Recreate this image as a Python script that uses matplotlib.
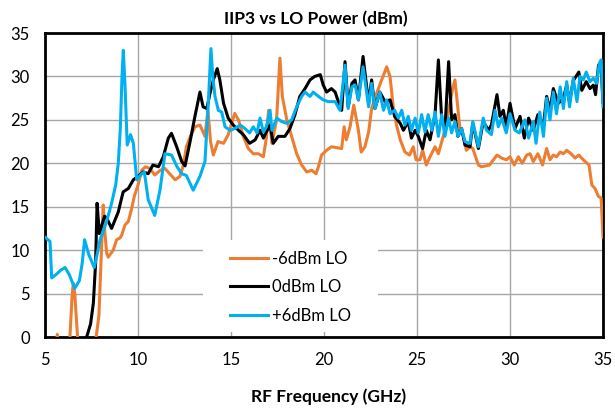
import matplotlib
matplotlib.use("Agg")
import matplotlib.pyplot as plt
from matplotlib.patches import Rectangle

plt.rcParams['font.family'] = ['Lato', 'DejaVu Sans']

# -6dBm LO
orange_x = [5.5, 5.66, 5.8, 6.2, 6.34, 6.45, 6.52, 6.6, 6.75, 6.9, 7.55, 7.75, 7.9, 8.0, 8.13, 8.22,
            8.32, 8.4, 8.67, 8.85, 9.03, 9.12, 9.3, 9.48, 9.66, 9.8, 10.0, 10.2, 10.4, 10.64, 10.9,
            11.2, 11.45, 11.7, 12.0, 12.26, 12.44, 12.6, 12.8, 13.06, 13.33, 13.6, 13.76, 13.9, 14.05,
            14.3, 14.6, 14.85, 15.2, 15.4, 15.66, 15.93, 16.2, 16.47, 16.74, 16.9, 17.02, 17.2, 17.45,
            17.63, 17.76, 18.0, 18.26, 18.53, 18.8, 19.07, 19.34, 19.57, 19.7, 19.87, 20.14, 20.4,
            20.95, 21.08, 21.2, 21.4, 21.6, 21.85, 22.0, 22.2, 22.4, 22.56, 22.83, 23.1, 23.37, 23.55,
            23.72, 23.9, 24.1, 24.35, 24.6, 24.8, 24.95, 25.16, 25.3, 25.5, 25.7, 25.97, 26.15, 26.33,
            26.5, 26.7, 26.9, 27.04, 27.16, 27.3, 27.5, 27.65, 27.85, 28.0, 28.3, 28.47, 28.9, 29.3,
            29.55, 29.8, 30.0, 30.23, 30.45, 30.66, 30.9, 31.08, 31.25, 31.5, 31.75, 31.97, 32.15,
            32.33, 32.5, 32.7, 32.87, 33.05, 33.28, 33.5, 33.7, 33.94, 34.25, 34.4, 34.57, 34.75,
            34.9, 35.0]
orange_y = [-3, 0.3, -3, -3, 0, 4.5, 6.2, 5.0, 0, -3, -3, 0, 2.5, 8.0, 15.2, 12.0,
            9.6, 9.2, 10.0, 11.2, 11.4, 11.7, 12.9, 13.3, 14.8, 16.2, 17.5, 19.2, 19.6, 19.4, 18.65,
            19.2, 19.4, 18.8, 18.1, 18.5, 19.8, 21.9, 23.0, 24.2, 24.4, 23.1, 26.1, 22.5, 20.95,
            22.5, 22.3, 23.3, 25.75, 25.0, 23.1, 21.7, 21.1, 21.1, 20.75, 22.9, 26.1, 22.3, 25.0,
            32.1, 27.7, 25.0, 23.1, 21.1, 19.8, 19.0, 19.2, 18.8, 19.6, 20.95, 21.5, 21.9,
            21.7, 24.2, 22.7, 24.2, 26.7, 23.8, 21.3, 21.9, 23.6, 26.3, 28.05, 29.6, 31.1, 30.0,
            26.5, 24.4, 22.7, 21.3, 20.95, 21.9, 20.4, 20.4, 21.5, 19.8, 20.75, 21.9, 21.1, 22.5,
            23.8, 26.1, 28.4, 29.6, 27.1, 24.2, 23.1, 21.5, 21.9, 21.7, 19.8, 19.6, 19.8, 20.95,
            20.6, 20.4, 20.75, 19.8, 20.75, 20.0, 20.95, 21.1, 20.2, 21.1, 19.8, 21.7, 20.4,
            20.95, 20.75, 21.3, 21.1, 21.5, 21.1, 20.6, 20.95, 20.4, 19.8, 17.5, 17.1, 16.2,
            16.0, 11.5]

# 0dBm LO
black_x = [7.0, 7.24, 7.45, 7.6, 7.72, 7.8, 7.92, 8.2, 8.32, 8.58, 8.94, 9.2, 9.48, 9.75, 10.0,
           10.28, 10.55, 10.8, 11.1, 11.36, 11.63, 11.8, 12.08, 12.35, 12.53, 12.8, 13.06, 13.33,
           13.5, 13.7, 13.87, 14.05, 14.26, 14.4, 14.6, 14.85, 15.12, 15.4, 15.66, 16.0, 16.3,
           16.56, 16.74, 16.9, 17.1, 17.27, 17.54, 17.9, 18.17, 18.44, 18.7, 18.98, 19.25, 19.5,
           19.8, 19.96, 20.14, 20.4, 20.6, 20.77, 20.95, 21.13, 21.3, 21.5, 21.67, 21.85, 22.1,
           22.4, 22.56, 22.74, 23.0, 23.28, 23.55, 23.8, 24.1, 24.27, 24.53, 24.7, 24.9, 25.07,
           25.3, 25.5, 25.7, 25.97, 26.15, 26.33, 26.5, 26.7, 26.86, 27.04, 27.2, 27.4, 27.58,
           27.85, 28.0, 28.3, 28.56, 28.84, 29.0, 29.3, 29.46, 29.64, 29.8, 30.0, 30.27, 30.54,
           30.77, 31.0, 31.25, 31.5, 31.8, 31.97, 32.15, 32.33, 32.6, 32.87, 33.05, 33.2, 33.4,
           33.7, 33.86, 34.1, 34.3, 34.48, 34.6, 34.76, 34.9, 35.0]
black_y = [-3, 0, 1.5, 3.9, 8.5, 15.4, 11.9, 13.9, 13.7, 12.5, 14.4, 16.7, 17.1, 18.1, 18.5,
           19.0, 18.8, 19.8, 19.6, 20.75, 22.9, 23.45, 21.9, 20.2, 19.7, 22.5, 25.4, 28.2,
           26.5, 26.3, 28.05, 29.6, 30.9, 29.6, 26.9, 25.2, 24.4, 23.8, 23.3, 22.3, 22.7,
           23.8, 22.9, 23.6, 24.4, 22.3, 23.1, 23.1, 24.0, 25.6, 27.7, 28.6, 29.6, 30.0,
           30.2, 29.0, 28.2, 28.6, 28.2, 27.1, 26.1, 31.7, 26.5, 29.2, 29.6, 27.3, 32.3,
           26.9, 29.6, 26.3, 28.2, 27.1, 27.3, 25.4, 24.6, 23.8, 24.8, 22.9, 23.8, 23.1,
           21.7, 23.8, 22.7, 25.6, 31.9, 25.0, 23.8, 31.7, 25.0, 25.6, 23.1, 24.0, 22.1,
           21.9, 24.6, 21.7, 24.8, 23.8, 24.4, 27.9, 25.4, 26.1, 24.2, 26.9, 24.0, 25.4,
           22.9, 25.2, 23.8, 25.6, 24.4, 27.7, 26.1, 28.6, 26.9, 27.5, 29.0, 27.0, 29.5,
           30.5, 28.4, 29.4, 28.6, 29.0, 27.9, 31.3, 31.1, 27.0]

# +6dBm LO
blue_x = [5.0, 5.27, 5.36, 5.6, 5.85, 6.08, 6.3, 6.6, 6.85, 7.0, 7.13, 7.35, 7.65, 7.8, 7.96,
          8.3, 8.58, 8.8, 8.94, 9.05, 9.14, 9.21, 9.3, 9.42, 9.6, 9.75, 9.93, 10.2, 10.34, 10.55,
          10.9, 11.18, 11.45, 11.8, 12.1, 12.35, 12.6, 12.97, 13.33, 13.6, 13.78, 13.92, 14.02,
          14.14, 14.32, 14.5, 14.68, 14.95, 15.2, 15.5, 15.75, 16.0, 16.2, 16.4, 16.56, 16.74,
          16.9, 17.1, 17.2, 17.46, 17.73, 18.0, 18.26, 18.53, 18.8, 18.98, 19.25, 19.42, 19.7,
          19.96, 20.23, 20.6, 20.86, 21.13, 21.3, 21.5, 21.67, 21.85, 22.1, 22.4, 22.56, 22.74,
          23.0, 23.2, 23.37, 23.55, 23.8, 24.0, 24.18, 24.35, 24.53, 24.7, 24.9, 25.07, 25.25,
          25.43, 25.6, 25.8, 25.97, 26.15, 26.33, 26.5, 26.7, 26.86, 27.04, 27.2, 27.4, 27.58,
          27.85, 28.0, 28.3, 28.56, 28.74, 29.0, 29.2, 29.37, 29.55, 29.8, 30.0, 30.27, 30.5,
          30.8, 31.0, 31.25, 31.4, 31.6, 31.8, 31.97, 32.15, 32.33, 32.5, 32.7, 32.87, 33.05,
          33.2, 33.4, 33.6, 33.76, 33.94, 34.1, 34.3, 34.48, 34.66, 34.8, 34.9, 35.0]
blue_y = [11.5, 11.0, 6.8, 7.2, 7.7, 8.0, 7.2, 5.6, 6.5, 8.5, 11.2, 9.5, 8.0, 9.5, 11.2,
          13.2, 15.4, 17.5, 20.0, 24.0, 30.0, 33.0, 29.0, 22.1, 23.3, 22.3, 18.1, 18.8, 19.0, 15.8,
          14.0, 16.9, 21.1, 20.95, 19.6, 18.8, 18.6, 16.9, 18.5, 20.2, 26.9, 33.2, 30.0,
          27.7, 26.1, 25.9, 24.2, 23.8, 24.0, 24.4, 24.0, 23.5, 24.2, 23.5, 25.2, 23.6,
          24.2, 26.1, 23.8, 25.2, 24.8, 24.6, 25.0, 26.5, 27.7, 28.2, 27.7, 28.2, 27.7,
          27.3, 27.1, 27.1, 26.1, 31.3, 26.3, 28.8, 29.0, 27.3, 31.1, 26.5, 29.2, 26.3,
          28.2, 26.1, 27.3, 25.7, 26.1, 25.2, 26.1, 24.4, 25.4, 23.8, 25.2, 23.5, 25.6,
          23.6, 25.6, 23.8, 25.9, 23.1, 25.6, 23.1, 25.2, 23.5, 24.8, 23.1, 24.0, 22.5,
          22.3, 24.8, 21.9, 25.2, 23.8, 23.3, 26.1, 24.2, 25.2, 23.5, 25.7, 23.8, 23.5,
          25.0, 22.9, 24.8, 22.3, 25.9, 23.1, 27.5, 25.0, 28.2, 25.7, 28.8, 26.3, 29.4,
          26.5, 29.8, 27.1, 30.0, 29.6, 30.5, 29.4, 29.8, 29.2, 31.5, 31.9, 26.5]

x_ticks = [5, 10, 15, 20, 25, 30, 35]
y_ticks = [0, 5, 10, 15, 20, 25, 30, 35]

fig = plt.figure(figsize=(6.15, 4.09), dpi=100)
ax = fig.add_axes([45 / 615, 1 - 337 / 409, 558 / 615, 304 / 409])

ax.plot(orange_x, orange_y, color='#ED7D31', lw=2.2, label='-6dBm LO', zorder=3)
ax.plot(black_x, black_y, color='black', lw=2.2, label='0dBm LO', zorder=3)
ax.plot(blue_x, blue_y, color='#00B0F0', lw=2.2, label='+6dBm LO', zorder=3)

ax.set_xlim(5, 35)
ax.set_ylim(0, 35)
ax.set_xticks(x_ticks)
ax.set_yticks(y_ticks)
ax.grid(True, color='#A6A6A6', lw=1.0)
ax.set_axisbelow(True)
ax.tick_params(length=0, labelsize=12, pad=11)
for s in ax.spines.values():
    s.set_linewidth(2.0)
    s.set_color('black')

ax.set_title('IIP3 vs LO Power (dBm)', fontsize=12.5, fontweight='bold', x=0.486, pad=6)
ax.set_xlabel('RF Frequency (GHz)', fontsize=12.5, fontweight='bold', va='center')
ax.xaxis.set_label_coords(0.509, -0.197)

# white block behind the legend hides the grid
ax.add_patch(Rectangle((0.283, 0.016), 0.314, 0.303, transform=ax.transAxes,
                       facecolor='white', edgecolor='none', zorder=1))
ax.legend(loc='center left', bbox_to_anchor=(0.3315, 0.1635), frameon=False,
          fontsize=12, handlelength=2.3, labelspacing=0.75, borderpad=0,
          borderaxespad=0, handletextpad=0.2)

fig.savefig('out.png', dpi=100)
